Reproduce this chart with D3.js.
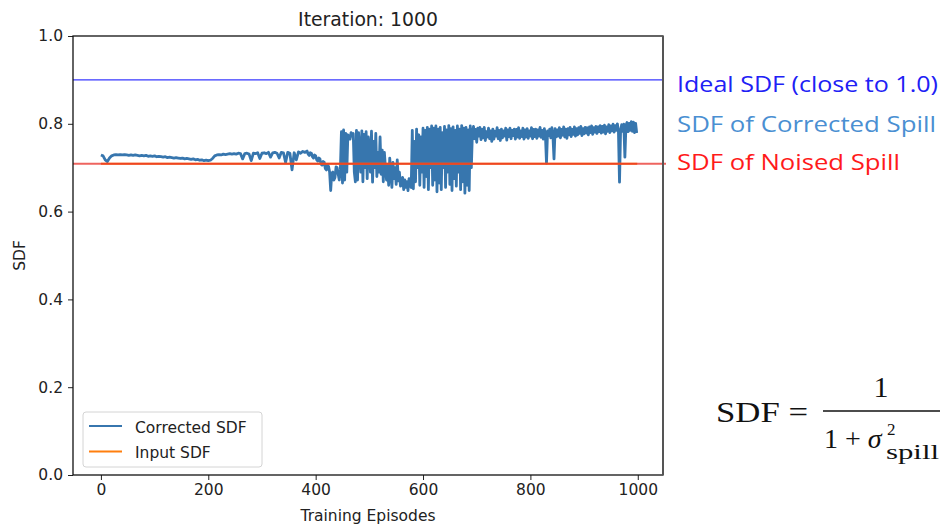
<!DOCTYPE html>
<html>
<head>
<meta charset="utf-8">
<script src="https://cdn.jsdelivr.net/npm/d3@7/dist/d3.min.js"></script>
<style>
  html, body { margin: 0; padding: 0; background: #fff; }
  svg { display: block; }
</style>
</head>
<body>
<div id="chart"></div>
<script>
// values
// calm part: episodes 0 - 380, one point every 4 episodes
const calmStep = 4
const calmSdf = [
    0.729, 0.727, 0.718, 0.714, 0.722, 0.727, 0.729, 0.730, 0.729, 0.730,
    0.729, 0.730, 0.729, 0.728, 0.729, 0.728, 0.729, 0.728, 0.727, 0.728,
    0.727, 0.728, 0.726, 0.727, 0.726, 0.727, 0.725, 0.726, 0.725, 0.724,
    0.725, 0.723, 0.724, 0.723, 0.722, 0.723, 0.722, 0.721, 0.722, 0.720,
    0.721, 0.720, 0.719, 0.720, 0.718, 0.719, 0.717, 0.718, 0.716, 0.717,
    0.716, 0.717, 0.721,
    0.727, 0.729, 0.730, 0.729, 0.731, 0.730, 0.731, 0.732, 0.731, 0.732,
    0.731, 0.733, 0.732, 0.720, 0.732, 0.733, 0.731, 0.716, 0.733, 0.732,
    0.734, 0.721, 0.733, 0.734, 0.732, 0.735, 0.724, 0.734, 0.735, 0.733,
    0.722, 0.735, 0.734, 0.712, 0.735, 0.733, 0.695, 0.734, 0.718, 0.736,
    0.733, 0.737, 0.735
]
// noisy part: episodes 382 - 998, one point every 2 episodes
const noisyStart = 382
const noisyStep = 2
const noisySdf = [
    // 382 - 446
    0.736, 0.738, 0.731, 0.728, 0.734, 0.733, 0.725, 0.722, 0.729, 0.727,
    0.718, 0.715, 0.722, 0.720, 0.708, 0.706, 0.714, 0.712, 0.698, 0.695,
    0.707, 0.703, 0.690, 0.648, 0.688, 0.690, 0.672, 0.678, 0.702, 0.700,
    0.685, 0.672, 0.695,
    // 448 - 474
    0.782, 0.665, 0.786, 0.672, 0.778, 0.690, 0.775, 0.770, 0.765, 0.780,
    0.772, 0.778, 0.690, 0.668,
    // 476 - 522
    0.785, 0.672, 0.780, 0.740, 0.690, 0.784, 0.668, 0.776, 0.700, 0.782,
    0.675, 0.770, 0.745, 0.690, 0.783, 0.667, 0.760, 0.700, 0.778, 0.680,
    0.735, 0.690, 0.770, 0.685,
    // 524 - 558
    0.740, 0.668, 0.735, 0.700, 0.672, 0.705, 0.660, 0.722, 0.690, 0.655,
    0.712, 0.675, 0.700, 0.662, 0.718, 0.670, 0.690, 0.658,
    // 560 - 578
    0.660, 0.678, 0.650, 0.672, 0.655, 0.668, 0.648, 0.675, 0.660, 0.655,
    // 580 - 690
    0.785, 0.652, 0.760, 0.668, 0.788, 0.700, 0.775, 0.660, 0.770, 0.690,
    0.790, 0.655, 0.785, 0.680, 0.792, 0.650, 0.788, 0.700, 0.795, 0.660,
    0.790, 0.672, 0.795, 0.645, 0.788, 0.665, 0.792, 0.650, 0.780, 0.700,
    0.794, 0.655, 0.786, 0.690, 0.796, 0.662, 0.789, 0.648, 0.793, 0.675,
    0.785, 0.658, 0.795, 0.690, 0.788, 0.650, 0.796, 0.668, 0.790, 0.642,
    0.792, 0.660, 0.786, 0.648, 0.795, 0.700,
    // 692 - 998
    0.780, 0.794, 0.766, 0.787, 0.758, 0.790, 0.772, 0.792, 0.764, 0.787,
    0.768, 0.792, 0.762, 0.782, 0.770, 0.790, 0.766, 0.784, 0.760, 0.788,
    0.765, 0.783, 0.772, 0.791, 0.766, 0.785, 0.762, 0.788, 0.768, 0.784,
    0.772, 0.790, 0.763, 0.786, 0.771, 0.790, 0.766, 0.785, 0.773, 0.788,
    0.765, 0.787, 0.770, 0.791, 0.767, 0.784, 0.771, 0.790, 0.765, 0.786,
    0.770, 0.789, 0.767, 0.784, 0.772, 0.791, 0.766, 0.787, 0.771, 0.788,
    0.767, 0.786, 0.772, 0.792, 0.769, 0.785, 0.765, 0.789, 0.774, 0.710,
    0.784, 0.773, 0.788, 0.768, 0.791, 0.771, 0.720, 0.789, 0.770, 0.786,
    0.772, 0.791, 0.768, 0.787, 0.774, 0.793, 0.770, 0.788, 0.767, 0.789,
    0.775, 0.792, 0.771, 0.787, 0.776, 0.793, 0.772, 0.789, 0.775, 0.791,
    0.778, 0.794, 0.773, 0.789, 0.777, 0.792, 0.779, 0.791, 0.775, 0.793,
    0.780, 0.795, 0.776, 0.791, 0.781, 0.794, 0.778, 0.793, 0.782, 0.796,
    0.779, 0.794, 0.781, 0.797, 0.777, 0.793, 0.783, 0.798, 0.780, 0.795,
    0.784, 0.799, 0.781, 0.796, 0.785, 0.800, 0.782, 0.667, 0.786, 0.798,
    0.783, 0.799, 0.724, 0.796, 0.803, 0.782, 0.801, 0.785, 0.805, 0.783,
    0.804, 0.780, 0.801, 0.779
]
const inputSdf = 0.709
const idealSdf = 0.9
const inputEpisodes = [0, 999]
const yTicks = [0, 0.2, 0.4, 0.6, 0.8, 1.0]
const xTicks = [0, 200, 400, 600, 800, 1000]
const legendItems = [
    { label: 'Corrected SDF', color: '#3776ae' },
    { label: 'Input SDF', color: '#ff7f0e' }
]
const notes = [
    { text: 'Ideal SDF (close to 1.0)', color: '#2020f5', y: 92, len: 261 },
    { text: 'SDF of Corrected Spill', color: '#4a8fd2', y: 132, len: 259 },
    { text: 'SDF of Noised Spill', color: '#ff1a1a', y: 170, len: 223 }
]

const width = 942, height = 525
const m = { left: 73, right: 663, top: 36, bottom: 475 }

const svg = d3.select('#chart').append('svg')
    .attr('width', width)
    .attr('height', height)

const x = d3.scaleLinear().domain([-52, 1047]).range([m.left, m.right])
const y = d3.scaleLinear().domain([0, 1]).range([m.bottom, m.top])

const tickFont = 'DejaVu Sans, sans-serif'

// axes
const yAxis = svg.append('g')
    .attr('transform', `translate(${m.left},0)`)
    .call(d3.axisLeft(y).tickValues(yTicks).tickFormat(d3.format('.1f')).tickSize(5).tickPadding(5).tickSizeOuter(0))
const xAxis = svg.append('g')
    .attr('transform', `translate(0,${m.bottom})`)
    .call(d3.axisBottom(x).tickValues(xTicks).tickFormat(d3.format('d')).tickSize(5).tickPadding(4).tickSizeOuter(0))
for (const ax of [xAxis, yAxis]) {
    ax.select('.domain').remove()
    ax.selectAll('text').attr('font-family', tickFont).attr('font-size', 15.5).attr('fill', '#222')
    ax.selectAll('line').attr('stroke', '#222')
}

// lines
svg.append('clipPath').attr('id', 'plot-clip')
    .append('rect').attr('x', m.left).attr('y', m.top).attr('width', m.right - m.left).attr('height', m.bottom - m.top)

const plot = svg.append('g').attr('clip-path', 'url(#plot-clip)')

plot.append('line')
    .attr('x1', m.left).attr('x2', m.right)
    .attr('y1', y(idealSdf)).attr('y2', y(idealSdf))
    .attr('stroke', '#3838ff').attr('stroke-width', 1.2)

const corrected = calmSdf.map((v, i) => [i * calmStep, v])
    .concat(noisySdf.map((v, i) => [noisyStart + i * noisyStep, v]))

const line = d3.line()
    .x(d => x(d[0]))
    .y(d => y(d[1]))

plot.append('path')
    .datum(corrected)
    .attr('fill', 'none')
    .attr('stroke', '#3776ae')
    .attr('stroke-width', 2.8)
    .attr('stroke-linejoin', 'round')
    .attr('d', line)

plot.append('line')
    .attr('x1', x(inputEpisodes[0])).attr('x2', x(inputEpisodes[1]))
    .attr('y1', y(inputSdf)).attr('y2', y(inputSdf))
    .attr('stroke', '#ff7f0e').attr('stroke-width', 2.2)

// red overlay line, runs slightly past the right spine
svg.append('line')
    .attr('x1', m.left).attr('x2', m.right + 3)
    .attr('y1', y(inputSdf)).attr('y2', y(inputSdf))
    .attr('stroke', '#e8302a').attr('stroke-opacity', 0.75).attr('stroke-width', 1.8)

// spines
svg.append('rect')
    .attr('x', m.left).attr('y', m.top)
    .attr('width', m.right - m.left).attr('height', m.bottom - m.top)
    .attr('fill', 'none').attr('stroke', '#111').attr('stroke-width', 1.3)
svg.append('line')
    .attr('x1', m.right).attr('x2', m.right).attr('y1', m.top).attr('y2', m.bottom)
    .attr('stroke', '#555').attr('stroke-width', 2)

// title and axis labels
svg.append('text')
    .attr('x', (m.left + m.right) / 2).attr('y', 25.5)
    .attr('text-anchor', 'middle')
    .attr('font-family', tickFont).attr('font-size', 18.8).attr('fill', '#222')
    .text('Iteration: 1000')
svg.append('text')
    .attr('x', (m.left + m.right) / 2).attr('y', 521)
    .attr('text-anchor', 'middle')
    .attr('font-family', tickFont).attr('font-size', 15.5).attr('fill', '#222')
    .text('Training Episodes')
svg.append('text')
    .attr('transform', `translate(25,${(m.top + m.bottom) / 2}) rotate(-90)`)
    .attr('text-anchor', 'middle')
    .attr('font-family', tickFont).attr('font-size', 15.5).attr('fill', '#222')
    .text('SDF')

// legend
const lg = svg.append('g')
lg.append('rect')
    .attr('x', 83).attr('y', 412).attr('width', 179).attr('height', 55).attr('rx', 3)
    .attr('fill', '#fff').attr('fill-opacity', 0.8)
    .attr('stroke', '#d4d4d4')
legendItems.forEach((d, i) => {
    const ly = 426 + i * 25.5
    lg.append('line')
        .attr('x1', 89).attr('x2', 122).attr('y1', ly).attr('y2', ly)
        .attr('stroke', d.color).attr('stroke-width', 2.2)
    lg.append('text')
        .attr('x', 135).attr('y', ly + 6.5)
        .attr('font-family', tickFont).attr('font-size', 15.5).attr('fill', '#222')
        .text(d.label)
})

// annotations on the right
svg.selectAll('text.note')
    .data(notes)
    .join('text')
    .attr('class', 'note')
    .attr('x', 677).attr('y', d => d.y)
    .attr('font-family', 'Open Sans, Lato, sans-serif').attr('font-size', 22)
    .attr('fill', d => d.color)
    .attr('textLength', d => d.len).attr('lengthAdjust', 'spacingAndGlyphs')
    .text(d => d.text)

// formula
const serif = 'Liberation Serif, Times New Roman, serif'
const f = svg.append('g').attr('font-family', serif).attr('fill', '#111')
f.append('text').attr('x', 716).attr('y', 422).attr('font-size', 30)
    .attr('textLength', 92).attr('lengthAdjust', 'spacingAndGlyphs').text('SDF =')
f.append('text').attr('x', 881).attr('y', 397).attr('font-size', 30).attr('text-anchor', 'middle').text('1')
f.append('line').attr('x1', 823).attr('x2', 940).attr('y1', 411).attr('y2', 411)
    .attr('stroke', '#111').attr('stroke-width', 1.5)
const den = f.append('text').attr('x', 824).attr('y', 448).attr('font-size', 28)
den.append('tspan').text('1 + ')
den.append('tspan').attr('font-style', 'italic').text('σ')
f.append('text').attr('x', 887).attr('y', 434.5).attr('font-size', 17).text('2')
f.append('text').attr('x', 886).attr('y', 459).attr('font-size', 20)
    .attr('textLength', 53).attr('lengthAdjust', 'spacingAndGlyphs').text('spill')
</script>
</body>
</html>
